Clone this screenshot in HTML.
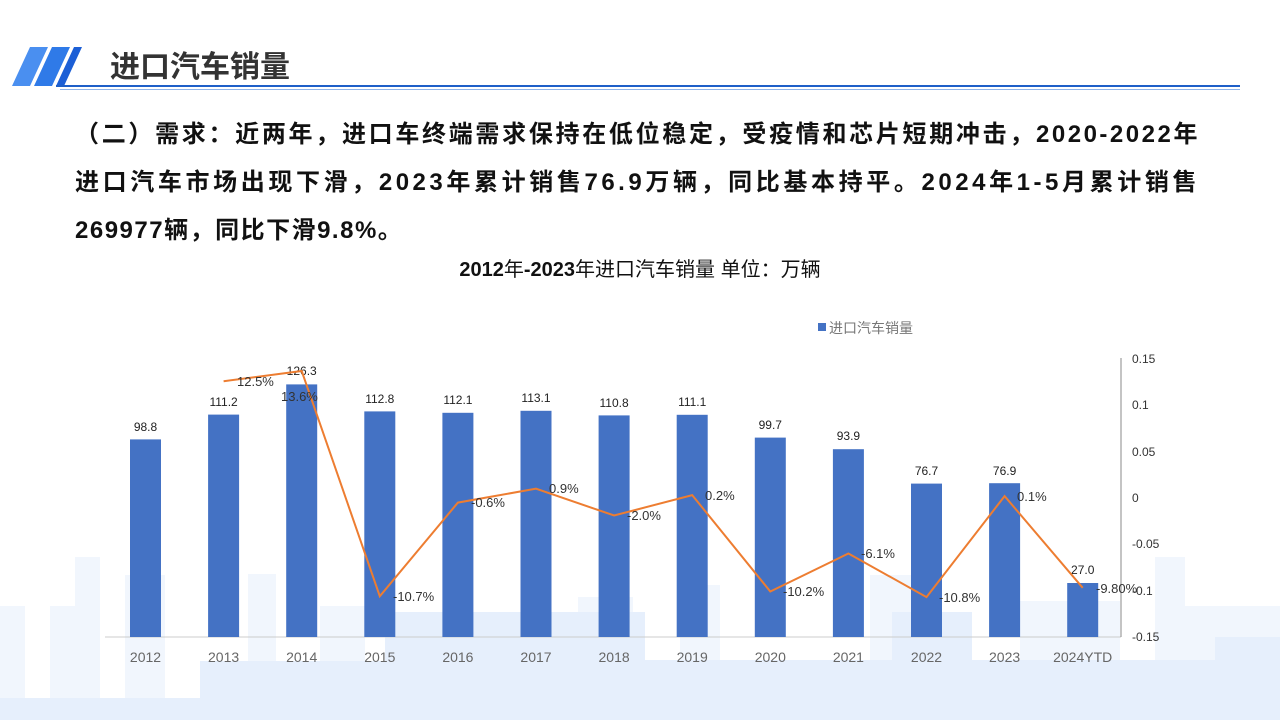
<!DOCTYPE html>
<html><head><meta charset="utf-8"><style>
body{margin:0;width:1280px;height:720px;overflow:hidden;background:#fff;font-family:"Liberation Sans","Noto Sans CJK SC",sans-serif;position:relative}
.t{position:absolute;left:75px;font-weight:bold;font-size:24px;color:#111;white-space:nowrap}
.j{width:1125px;text-align:justify;text-align-last:justify;white-space:normal}
</style></head><body>
<svg width="1280" height="720" style="position:absolute;left:0;top:0">
<g fill="#f1f6fd">
<rect x="0" y="606" width="25" height="114"/><rect x="50" y="606" width="50" height="114"/><rect x="75" y="557" width="25" height="163"/>
<rect x="125" y="575" width="40" height="145"/><rect x="248" y="574" width="28" height="146"/><rect x="320" y="606" width="45" height="114"/>
<rect x="680" y="585" width="40" height="135"/><rect x="1020" y="601" width="100" height="119"/><rect x="1155" y="557" width="30" height="163"/><rect x="1185" y="606" width="95" height="114"/>
<rect x="578" y="597" width="55" height="123"/><rect x="870" y="575" width="50" height="145"/>
</g>
<g fill="#e6effc">
<rect x="0" y="698" width="280" height="22"/><rect x="200" y="661" width="400" height="59"/><rect x="385" y="612" width="120" height="108"/>
<rect x="465" y="612" width="100" height="108"/><rect x="565" y="612" width="80" height="108"/><rect x="645" y="660" width="635" height="60"/>
<rect x="892" y="612" width="80" height="108"/><rect x="1215" y="637" width="65" height="83"/><rect x="1020" y="680" width="130" height="40"/>
</g>
<polygon points="12,86 30,47 48,47 30,86" fill="#4a8ff0"/>
<polygon points="34,86 52,47 70,47 52,86" fill="#2f7ae8"/>
<polygon points="56,86 74,47 82,47 64,86" fill="#1c5fd6"/>
<line x1="56" y1="86" x2="1240" y2="86" stroke="#1e5fc8" stroke-width="2"/>
<line x1="60" y1="89.5" x2="1240" y2="89.5" stroke="#8fb4ea" stroke-width="1"/>
<text x="110" y="77" font-size="30" font-weight="bold" fill="#333" font-family="Liberation Sans,Noto Sans CJK SC,sans-serif">进口汽车销量</text>
<text x="640" y="276" text-anchor="middle" font-size="20" fill="#111" font-family="Liberation Sans,Noto Sans CJK SC,sans-serif"><tspan font-weight="bold">2012</tspan>年<tspan font-weight="bold">-2023</tspan>年进口汽车销量  单位：万辆</text>
<rect x="818" y="323" width="8" height="8" fill="#4472c4"/>
<text x="829" y="333" font-size="14" fill="#777" font-family="Liberation Sans,Noto Sans CJK SC,sans-serif">进口汽车销量</text>
<line x1="105" y1="637" x2="1121" y2="637" stroke="#ccc"/>
<line x1="1121" y1="358" x2="1121" y2="637" stroke="#888"/>
<g fill="#4472c4">
<rect x="130" y="439.4" width="31" height="197.6"/><rect x="208.1" y="414.6" width="31" height="222.4"/><rect x="286.2" y="384.4" width="31" height="252.6"/>
<rect x="364.3" y="411.4" width="31" height="225.6"/><rect x="442.4" y="412.8" width="31" height="224.2"/><rect x="520.5" y="410.8" width="31" height="226.2"/>
<rect x="598.6" y="415.4" width="31" height="221.6"/><rect x="676.7" y="414.8" width="31" height="222.2"/><rect x="754.8" y="437.6" width="31" height="199.4"/>
<rect x="832.9" y="449.2" width="31" height="187.8"/><rect x="911" y="483.6" width="31" height="153.4"/><rect x="989.1" y="483.2" width="31" height="153.8"/>
<rect x="1067.2" y="583" width="31" height="54"/>
</g>
<g font-size="12" fill="#222" text-anchor="middle" font-family="Liberation Sans,sans-serif">
<text x="145.5" y="431">98.8</text><text x="223.6" y="406">111.2</text><text x="301.7" y="375">126.3</text><text x="379.8" y="403">112.8</text>
<text x="457.9" y="404">112.1</text><text x="536" y="402">113.1</text><text x="614.1" y="407">110.8</text><text x="692.2" y="406">111.1</text>
<text x="770.3" y="429">99.7</text><text x="848.4" y="440">93.9</text><text x="926.5" y="475">76.7</text><text x="1004.6" y="475">76.9</text><text x="1082.7" y="574">27.0</text>
</g>
<polyline fill="none" stroke="#ed7d31" stroke-width="2" points="223.6,381.2 301.7,371 379.8,596.2 457.9,502.6 536,488.7 614.1,515.5 692.2,495.1 770.3,591.5 848.4,553.5 926.5,597.1 1004.6,496.1 1082.7,587.8"/>
<g font-size="13" fill="#333" font-family="Liberation Sans,sans-serif">
<text x="237" y="386">12.5%</text><text x="281" y="401">13.6%</text><text x="393" y="601">-10.7%</text><text x="471" y="507">-0.6%</text>
<text x="549" y="493">0.9%</text><text x="627" y="520">-2.0%</text><text x="705" y="500">0.2%</text><text x="783" y="596">-10.2%</text>
<text x="861" y="558">-6.1%</text><text x="939" y="602">-10.8%</text><text x="1017" y="501">0.1%</text><text x="1096" y="593">-9.80%</text>
</g>
<g font-size="12" fill="#333" font-family="Liberation Sans,sans-serif">
<text x="1132" y="363">0.15</text><text x="1132" y="409">0.1</text><text x="1132" y="456">0.05</text><text x="1132" y="502">0</text>
<text x="1132" y="548">-0.05</text><text x="1132" y="595">-0.1</text><text x="1132" y="641">-0.15</text>
</g>
<g font-size="14" fill="#666" text-anchor="middle" font-family="Liberation Sans,sans-serif">
<text x="145.5" y="662">2012</text><text x="223.6" y="662">2013</text><text x="301.7" y="662">2014</text><text x="379.8" y="662">2015</text>
<text x="457.9" y="662">2016</text><text x="536" y="662">2017</text><text x="614.1" y="662">2018</text><text x="692.2" y="662">2019</text>
<text x="770.3" y="662">2020</text><text x="848.4" y="662">2021</text><text x="926.5" y="662">2022</text><text x="1004.6" y="662">2023</text><text x="1082.7" y="662">2024YTD</text>
</g>
</svg>
<div class="t j" style="top:114px;letter-spacing:2.5px">（二）需求：近两年，进口车终端需求保持在低位稳定，受疫情和芯片短期冲击，2020-2022年</div>
<div class="t j" style="top:162px;letter-spacing:3.5px">进口汽车市场出现下滑，2023年累计销售76.9万辆，同比基本持平。2024年1-5月累计销售</div>
<div class="t" style="top:210px;letter-spacing:1.5px">269977辆，同比下滑9.8%。</div>
</body></html>
